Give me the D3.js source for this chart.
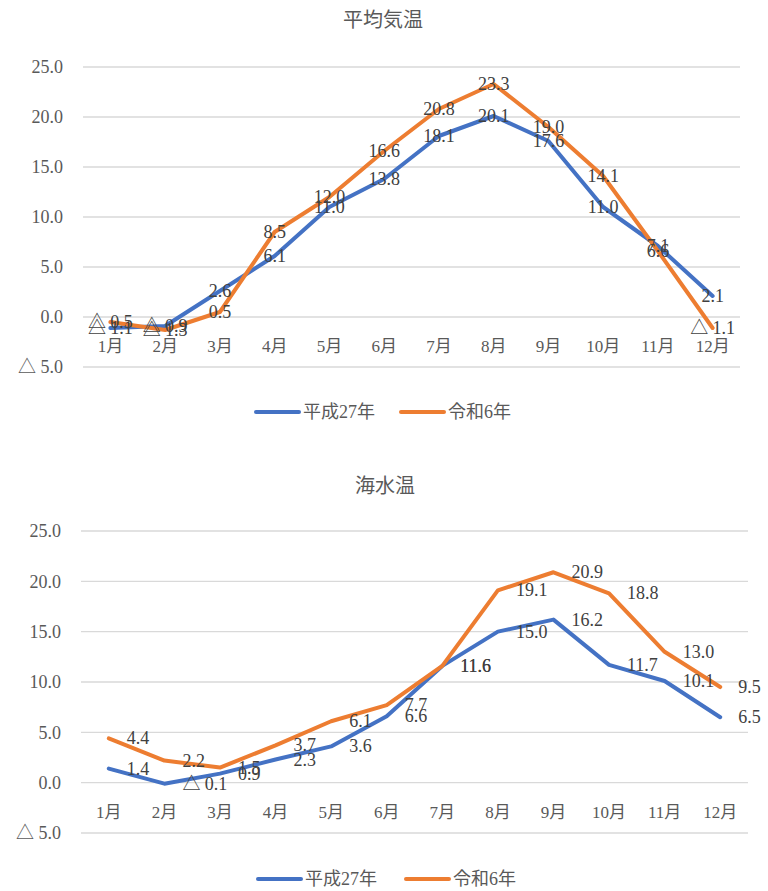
<!DOCTYPE html>
<html>
<head>
<meta charset="utf-8">
<script src="https://cdn.jsdelivr.net/npm/d3@7"></script>
<style>
  html, body { margin: 0; padding: 0; background: #fff; }
  svg { display: block; }
</style>
</head>
<body>
<svg id="chart" width="768" height="891"></svg>
<script>
const months = ["1月","2月","3月","4月","5月","6月","7月","8月","9月","10月","11月","12月"];
const seriesNames = ["平成27年","令和6年"];
const yTicks = [-5, 0, 5, 10, 15, 20, 25];

const airTitle = "平均気温";
const airH27 = [-1.1, -0.9, 2.6, 6.1, 11.0, 13.8, 18.1, 20.1, 17.6, 11.0, 7.1, 2.1];
const airR6  = [-0.5, -1.3, 0.5, 8.5, 12.0, 16.6, 20.8, 23.3, 19.0, 14.1, 6.6, -1.1];

const seaTitle = "海水温";
const seaH27 = [1.4, -0.1, 0.9, 2.3, 3.6, 6.6, 11.6, 15.0, 16.2, 11.7, 10.1, 6.5];
const seaR6  = [4.4, 2.2, 1.5, 3.7, 6.1, 7.7, 11.6, 19.1, 20.9, 18.8, 13.0, 9.5];

const colors = ["#4472C4", "#ED7D31"];
const numFont = "'Liberation Serif','Noto Sans CJK JP',serif";
const fmt = v => v < 0 ? "△ " + Math.abs(v).toFixed(1) : v.toFixed(1);

const svg = d3.select("#chart");

function drawChart(cfg) {
  const g = svg.append("g");
  const x = d3.scaleBand().domain(months).range([cfg.left, cfg.right]);
  const y = d3.scaleLinear().domain([-5, 25]).range([cfg.bottom, cfg.top]);

  g.append("text")
    .attr("x", cfg.titleX).attr("y", cfg.titleY)
    .attr("text-anchor", "middle").attr("dominant-baseline", "central")
    .attr("font-family", "'Noto Sans CJK JP',sans-serif")
    .attr("font-size", 20).attr("fill", "#595959")
    .text(cfg.title);

  g.selectAll(".grid").data(yTicks).enter().append("line")
    .attr("x1", cfg.left).attr("x2", cfg.right)
    .attr("y1", d => y(d)).attr("y2", d => y(d))
    .attr("stroke", "#d9d9d9").attr("stroke-width", 1.3);

  const yAxis = d3.axisLeft(y).tickValues(yTicks).tickFormat(fmt).tickSize(0).tickPadding(0);
  const ya = g.append("g").attr("transform", `translate(${cfg.left - 20},0)`).call(yAxis);
  ya.select(".domain").remove();
  ya.selectAll("text").attr("font-family", numFont).attr("font-size", 18).attr("fill", "#595959");

  const xAxis = d3.axisBottom(x).tickSize(0).tickPadding(0);
  const xa = g.append("g").attr("transform", `translate(0,${y(0) + 23})`).call(xAxis);
  xa.select(".domain").remove();
  xa.selectAll("text").attr("font-family", numFont).attr("font-size", 17).attr("fill", "#595959");

  const line = d3.line()
    .x((d, i) => x(months[i]) + x.bandwidth() / 2)
    .y(d => y(d));

  cfg.series.forEach((s, k) => {
    g.append("path").datum(s)
      .attr("d", line).attr("fill", "none")
      .attr("stroke", colors[k]).attr("stroke-width", 4)
      .attr("stroke-linejoin", "round").attr("stroke-linecap", "round");
  });

  cfg.series.forEach((s, k) => {
    g.selectAll(".lbl" + k).data(s).enter().append("text")
      .attr("x", (d, i) => x(months[i]) + x.bandwidth() / 2 + cfg.labelDx)
      .attr("y", d => y(d))
      .attr("text-anchor", cfg.labelAnchor)
      .attr("dominant-baseline", "central")
      .attr("font-family", numFont).attr("font-size", 18)
      .attr("fill", "#404040")
      .text(d => fmt(d));
  });

  const lg = g.append("g");
  cfg.legend.forEach((l, k) => {
    lg.append("line")
      .attr("x1", l.x).attr("x2", l.x + 43)
      .attr("y1", cfg.legendY).attr("y2", cfg.legendY)
      .attr("stroke", colors[k]).attr("stroke-width", 4).attr("stroke-linecap", "round");
    lg.append("text")
      .attr("x", l.x + 47).attr("y", cfg.legendY)
      .attr("dominant-baseline", "central")
      .attr("font-family", numFont).attr("font-size", 18).attr("fill", "#595959")
      .text(seriesNames[k]);
  });
}

drawChart({
  title: airTitle, titleX: 383, titleY: 18,
  left: 83, right: 740, top: 67, bottom: 367,
  series: [airH27, airR6],
  labelDx: 0, labelAnchor: "middle",
  legendY: 412,
  legend: [{x: 256}, {x: 401}]
});

drawChart({
  title: seaTitle, titleX: 385, titleY: 484,
  left: 81, right: 748, top: 531, bottom: 833,
  series: [seaH27, seaR6],
  labelDx: 18, labelAnchor: "start",
  legendY: 879,
  legend: [{x: 258}, {x: 406}]
});
</script>
</body>
</html>
